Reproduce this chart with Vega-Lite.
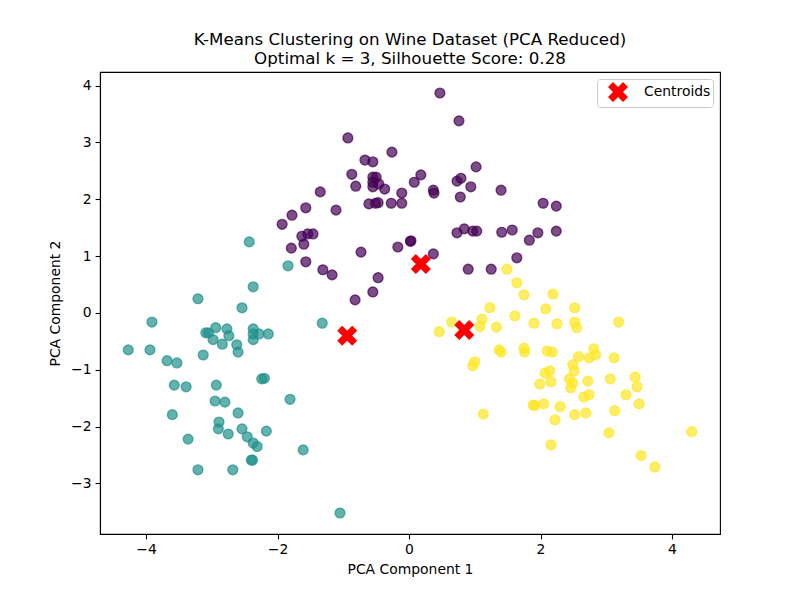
{
  "$schema": "https://vega.github.io/schema/vega-lite/v6.json",
  "width": 620,
  "height": 462,
  "autosize": {"type": "none"},
  "padding": {"left": 100, "top": 72, "right": 80, "bottom": 66},
  "background": "white",
  "title": {
    "text": ["K-Means Clustering on Wine Dataset (PCA Reduced)", "Optimal k = 3, Silhouette Score: 0.28"],
    "font": "DejaVu Sans",
    "fontSize": 16.7,
    "fontWeight": "normal",
    "color": "black",
    "anchor": "middle",
    "lineHeight": 19,
    "offset": 4
  },
  "config": {
    "view": {"stroke": "black", "strokeWidth": 1.1},
    "axis": {
      "grid": false,
      "domainColor": "black",
      "domainWidth": 1.1,
      "tickColor": "black",
      "tickWidth": 1.1,
      "tickSize": 4.9,
      "labelPadding": 4,
      "labelFont": "DejaVu Sans",
      "labelFontSize": 13.9,
      "labelColor": "black",
      "titleFont": "DejaVu Sans",
      "titleFontSize": 13.9,
      "titleFontWeight": "normal",
      "titleColor": "black"
    },
    "legend": {
      "labelFont": "DejaVu Sans",
      "labelFontSize": 13.9,
      "labelColor": "black"
    }
  },
  "datasets": {
    "points": [
      {"x": -2.43, "y": 1.25, "cluster": 1},
      {"x": -1.84, "y": 0.83, "cluster": 1},
      {"x": -2.37, "y": 0.46, "cluster": 1},
      {"x": -3.21, "y": 0.25, "cluster": 1},
      {"x": -2.54, "y": 0.09, "cluster": 1},
      {"x": -3.91, "y": -0.16, "cluster": 1},
      {"x": -1.32, "y": -0.18, "cluster": 1},
      {"x": -3.09, "y": -0.35, "cluster": 1},
      {"x": -3.05, "y": -0.35, "cluster": 1},
      {"x": -2.94, "y": -0.26, "cluster": 1},
      {"x": -2.77, "y": -0.28, "cluster": 1},
      {"x": -2.74, "y": -0.4, "cluster": 1},
      {"x": -2.98, "y": -0.47, "cluster": 1},
      {"x": -2.84, "y": -0.55, "cluster": 1},
      {"x": -2.62, "y": -0.56, "cluster": 1},
      {"x": -2.6, "y": -0.69, "cluster": 1},
      {"x": -2.37, "y": -0.28, "cluster": 1},
      {"x": -2.37, "y": -0.37, "cluster": 1},
      {"x": -2.37, "y": -0.47, "cluster": 1},
      {"x": -2.28, "y": -0.37, "cluster": 1},
      {"x": -2.14, "y": -0.37, "cluster": 1},
      {"x": -4.27, "y": -0.65, "cluster": 1},
      {"x": -3.94, "y": -0.65, "cluster": 1},
      {"x": -3.68, "y": -0.84, "cluster": 1},
      {"x": -3.53, "y": -0.88, "cluster": 1},
      {"x": -3.13, "y": -0.74, "cluster": 1},
      {"x": -2.24, "y": -1.16, "cluster": 1},
      {"x": -2.2, "y": -1.15, "cluster": 1},
      {"x": -3.57, "y": -1.27, "cluster": 1},
      {"x": -3.39, "y": -1.3, "cluster": 1},
      {"x": -2.93, "y": -1.27, "cluster": 1},
      {"x": -2.95, "y": -1.55, "cluster": 1},
      {"x": -2.8, "y": -1.57, "cluster": 1},
      {"x": -1.81, "y": -1.52, "cluster": 1},
      {"x": -3.6, "y": -1.79, "cluster": 1},
      {"x": -2.6, "y": -1.76, "cluster": 1},
      {"x": -2.89, "y": -1.92, "cluster": 1},
      {"x": -2.9, "y": -2.04, "cluster": 1},
      {"x": -2.75, "y": -2.13, "cluster": 1},
      {"x": -2.54, "y": -2.04, "cluster": 1},
      {"x": -2.46, "y": -2.18, "cluster": 1},
      {"x": -2.37, "y": -2.29, "cluster": 1},
      {"x": -2.31, "y": -2.35, "cluster": 1},
      {"x": -2.17, "y": -2.08, "cluster": 1},
      {"x": -3.36, "y": -2.22, "cluster": 1},
      {"x": -1.61, "y": -2.41, "cluster": 1},
      {"x": -2.4, "y": -2.59, "cluster": 1},
      {"x": -2.38, "y": -2.59, "cluster": 1},
      {"x": -3.21, "y": -2.76, "cluster": 1},
      {"x": -2.68, "y": -2.76, "cluster": 1},
      {"x": -1.05, "y": -3.52, "cluster": 1},
      {"x": 0.47, "y": 3.87, "cluster": 0},
      {"x": 0.76, "y": 3.38, "cluster": 0},
      {"x": -0.93, "y": 3.08, "cluster": 0},
      {"x": -0.26, "y": 2.83, "cluster": 0},
      {"x": -0.67, "y": 2.69, "cluster": 0},
      {"x": -0.55, "y": 2.66, "cluster": 0},
      {"x": 1.02, "y": 2.57, "cluster": 0},
      {"x": -0.87, "y": 2.44, "cluster": 0},
      {"x": 0.18, "y": 2.43, "cluster": 0},
      {"x": 0.08, "y": 2.3, "cluster": 0},
      {"x": -0.55, "y": 2.39, "cluster": 0},
      {"x": -0.5, "y": 2.39, "cluster": 0},
      {"x": -0.55, "y": 2.3, "cluster": 0},
      {"x": -0.46, "y": 2.27, "cluster": 0},
      {"x": -0.55, "y": 2.22, "cluster": 0},
      {"x": -0.81, "y": 2.23, "cluster": 0},
      {"x": -0.37, "y": 2.18, "cluster": 0},
      {"x": -0.11, "y": 2.11, "cluster": 0},
      {"x": 0.37, "y": 2.16, "cluster": 0},
      {"x": 0.38, "y": 2.11, "cluster": 0},
      {"x": 0.73, "y": 2.32, "cluster": 0},
      {"x": 0.79, "y": 2.37, "cluster": 0},
      {"x": 0.94, "y": 2.22, "cluster": 0},
      {"x": 0.78, "y": 2.04, "cluster": 0},
      {"x": 1.4, "y": 2.16, "cluster": 0},
      {"x": -1.35, "y": 2.13, "cluster": 0},
      {"x": -1.57, "y": 1.85, "cluster": 0},
      {"x": -1.11, "y": 1.81, "cluster": 0},
      {"x": -1.78, "y": 1.72, "cluster": 0},
      {"x": -1.93, "y": 1.56, "cluster": 0},
      {"x": -0.61, "y": 1.92, "cluster": 0},
      {"x": -0.51, "y": 1.93, "cluster": 0},
      {"x": -0.47, "y": 1.94, "cluster": 0},
      {"x": -0.27, "y": 1.93, "cluster": 0},
      {"x": -0.11, "y": 1.93, "cluster": 0},
      {"x": -1.63, "y": 1.35, "cluster": 0},
      {"x": -1.54, "y": 1.39, "cluster": 0},
      {"x": -1.46, "y": 1.39, "cluster": 0},
      {"x": -1.6, "y": 1.21, "cluster": 0},
      {"x": -1.79, "y": 1.14, "cluster": 0},
      {"x": -0.73, "y": 1.07, "cluster": 0},
      {"x": -0.17, "y": 1.16, "cluster": 0},
      {"x": 0.03, "y": 1.27, "cluster": 0},
      {"x": 0.02, "y": 1.26, "cluster": 0},
      {"x": 0.37, "y": 1.04, "cluster": 0},
      {"x": 0.73, "y": 1.41, "cluster": 0},
      {"x": 0.84, "y": 1.48, "cluster": 0},
      {"x": 0.97, "y": 1.44, "cluster": 0},
      {"x": 1.03, "y": 1.44, "cluster": 0},
      {"x": 1.41, "y": 1.42, "cluster": 0},
      {"x": 1.57, "y": 1.46, "cluster": 0},
      {"x": 1.64, "y": 0.97, "cluster": 0},
      {"x": 2.04, "y": 1.93, "cluster": 0},
      {"x": 2.24, "y": 1.88, "cluster": 0},
      {"x": 1.83, "y": 1.28, "cluster": 0},
      {"x": 1.96, "y": 1.41, "cluster": 0},
      {"x": 2.24, "y": 1.44, "cluster": 0},
      {"x": 0.9, "y": 0.77, "cluster": 0},
      {"x": 1.25, "y": 0.77, "cluster": 0},
      {"x": -1.57, "y": 0.9, "cluster": 0},
      {"x": -1.31, "y": 0.76, "cluster": 0},
      {"x": -1.17, "y": 0.67, "cluster": 0},
      {"x": -0.47, "y": 0.62, "cluster": 0},
      {"x": -0.55, "y": 0.37, "cluster": 0},
      {"x": -0.82, "y": 0.23, "cluster": 0},
      {"x": 1.49, "y": 0.77, "cluster": 2},
      {"x": 1.64, "y": 0.53, "cluster": 2},
      {"x": 1.75, "y": 0.32, "cluster": 2},
      {"x": 2.19, "y": 0.33, "cluster": 2},
      {"x": 1.23, "y": 0.09, "cluster": 2},
      {"x": 2.08, "y": 0.07, "cluster": 2},
      {"x": 2.52, "y": 0.09, "cluster": 2},
      {"x": 0.65, "y": -0.16, "cluster": 2},
      {"x": 1.11, "y": -0.11, "cluster": 2},
      {"x": 1.08, "y": -0.24, "cluster": 2},
      {"x": 1.33, "y": -0.25, "cluster": 2},
      {"x": 1.61, "y": -0.05, "cluster": 2},
      {"x": 1.9, "y": -0.18, "cluster": 2},
      {"x": 2.25, "y": -0.19, "cluster": 2},
      {"x": 2.52, "y": -0.16, "cluster": 2},
      {"x": 2.55, "y": -0.26, "cluster": 2},
      {"x": 3.19, "y": -0.16, "cluster": 2},
      {"x": 0.46, "y": -0.33, "cluster": 2},
      {"x": 1.37, "y": -0.65, "cluster": 2},
      {"x": 1.4, "y": -0.69, "cluster": 2},
      {"x": 1.75, "y": -0.62, "cluster": 2},
      {"x": 1.76, "y": -0.69, "cluster": 2},
      {"x": 2.1, "y": -0.67, "cluster": 2},
      {"x": 2.18, "y": -0.69, "cluster": 2},
      {"x": 1.0, "y": -0.86, "cluster": 2},
      {"x": 0.97, "y": -0.93, "cluster": 2},
      {"x": 2.81, "y": -0.63, "cluster": 2},
      {"x": 2.84, "y": -0.74, "cluster": 2},
      {"x": 2.74, "y": -0.79, "cluster": 2},
      {"x": 2.58, "y": -0.77, "cluster": 2},
      {"x": 3.12, "y": -0.79, "cluster": 2},
      {"x": 2.49, "y": -0.91, "cluster": 2},
      {"x": 2.51, "y": -1.02, "cluster": 2},
      {"x": 2.14, "y": -1.02, "cluster": 2},
      {"x": 2.07, "y": -1.06, "cluster": 2},
      {"x": 1.99, "y": -1.25, "cluster": 2},
      {"x": 2.16, "y": -1.21, "cluster": 2},
      {"x": 2.44, "y": -1.16, "cluster": 2},
      {"x": 2.49, "y": -1.23, "cluster": 2},
      {"x": 2.46, "y": -1.32, "cluster": 2},
      {"x": 2.72, "y": -1.2, "cluster": 2},
      {"x": 3.06, "y": -1.16, "cluster": 2},
      {"x": 3.44, "y": -1.13, "cluster": 2},
      {"x": 3.47, "y": -1.3, "cluster": 2},
      {"x": 3.3, "y": -1.44, "cluster": 2},
      {"x": 2.66, "y": -1.48, "cluster": 2},
      {"x": 2.74, "y": -1.44, "cluster": 2},
      {"x": 3.5, "y": -1.6, "cluster": 2},
      {"x": 1.89, "y": -1.62, "cluster": 2},
      {"x": 1.91, "y": -1.63, "cluster": 2},
      {"x": 2.05, "y": -1.6, "cluster": 2},
      {"x": 2.3, "y": -1.65, "cluster": 2},
      {"x": 1.13, "y": -1.78, "cluster": 2},
      {"x": 2.22, "y": -1.88, "cluster": 2},
      {"x": 2.52, "y": -1.79, "cluster": 2},
      {"x": 2.69, "y": -1.76, "cluster": 2},
      {"x": 3.13, "y": -1.72, "cluster": 2},
      {"x": 3.04, "y": -2.11, "cluster": 2},
      {"x": 4.3, "y": -2.09, "cluster": 2},
      {"x": 2.16, "y": -2.32, "cluster": 2},
      {"x": 3.53, "y": -2.51, "cluster": 2},
      {"x": 3.74, "y": -2.71, "cluster": 2}
    ],
    "centroids": [
      {"x": -0.94, "y": -0.4, "label": "Centroids"},
      {"x": 0.18, "y": 0.86, "label": "Centroids"},
      {"x": 0.84, "y": -0.3, "label": "Centroids"}
    ]
  },
  "encoding": {
    "x": {
      "field": "x",
      "type": "quantitative",
      "title": "PCA Component 1",
      "scale": {"domain": [-4.7, 4.73], "nice": false, "zero": false},
      "axis": {"values": [-4, -2, 0, 2, 4], "titlePadding": 6}
    },
    "y": {
      "field": "y",
      "type": "quantitative",
      "title": "PCA Component 2",
      "scale": {"domain": [-3.89, 4.24], "nice": false, "zero": false},
      "axis": {"values": [-3, -2, -1, 0, 1, 2, 3, 4], "titlePadding": 8}
    }
  },
  "layer": [
    {
      "data": {"name": "points"},
      "mark": {
        "type": "point",
        "shape": "circle",
        "filled": true,
        "size": 96,
        "fillOpacity": 0.7,
        "strokeOpacity": 0.7,
        "strokeWidth": 1.4
      },
      "encoding": {
        "fill": {
          "field": "cluster",
          "type": "nominal",
          "scale": {"domain": [0, 1, 2], "range": ["#440154", "#21918c", "#fde725"]},
          "legend": null
        },
        "stroke": {
          "field": "cluster",
          "type": "nominal",
          "scale": {"domain": [0, 1, 2], "range": ["#440154", "#21918c", "#fde725"]},
          "legend": null
        }
      }
    },
    {
      "data": {"name": "centroids"},
      "mark": {"type": "point", "filled": true, "size": 400, "opacity": 1},
      "encoding": {
        "color": {
          "field": "label",
          "type": "nominal",
          "scale": {"domain": ["Centroids"], "range": ["red"]},
          "legend": {
            "title": null,
            "orient": "top-right",
            "offset": 7,
            "padding": 2,
            "fillColor": "white",
            "strokeColor": "#cccccc",
            "cornerRadius": 3,
            "symbolSize": 400,
            "symbolOffset": 8,
            "labelOffset": 15,
            "symbolOpacity": 1
          }
        },
        "shape": {
          "field": "label",
          "type": "nominal",
          "scale": {"domain": ["Centroids"], "range": ["M0.5,-1L1,-0.5L0.5,0L1,0.5L0.5,1L0,0.5L-0.5,1L-1,0.5L-0.5,0L-1,-0.5L-0.5,-1L0,-0.5Z"]},
          "legend": {
            "title": null,
            "orient": "top-right",
            "offset": 7,
            "padding": 2,
            "fillColor": "white",
            "strokeColor": "#cccccc",
            "cornerRadius": 3,
            "symbolSize": 400,
            "symbolOffset": 8,
            "labelOffset": 15,
            "symbolOpacity": 1
          }
        }
      }
    }
  ]
}
